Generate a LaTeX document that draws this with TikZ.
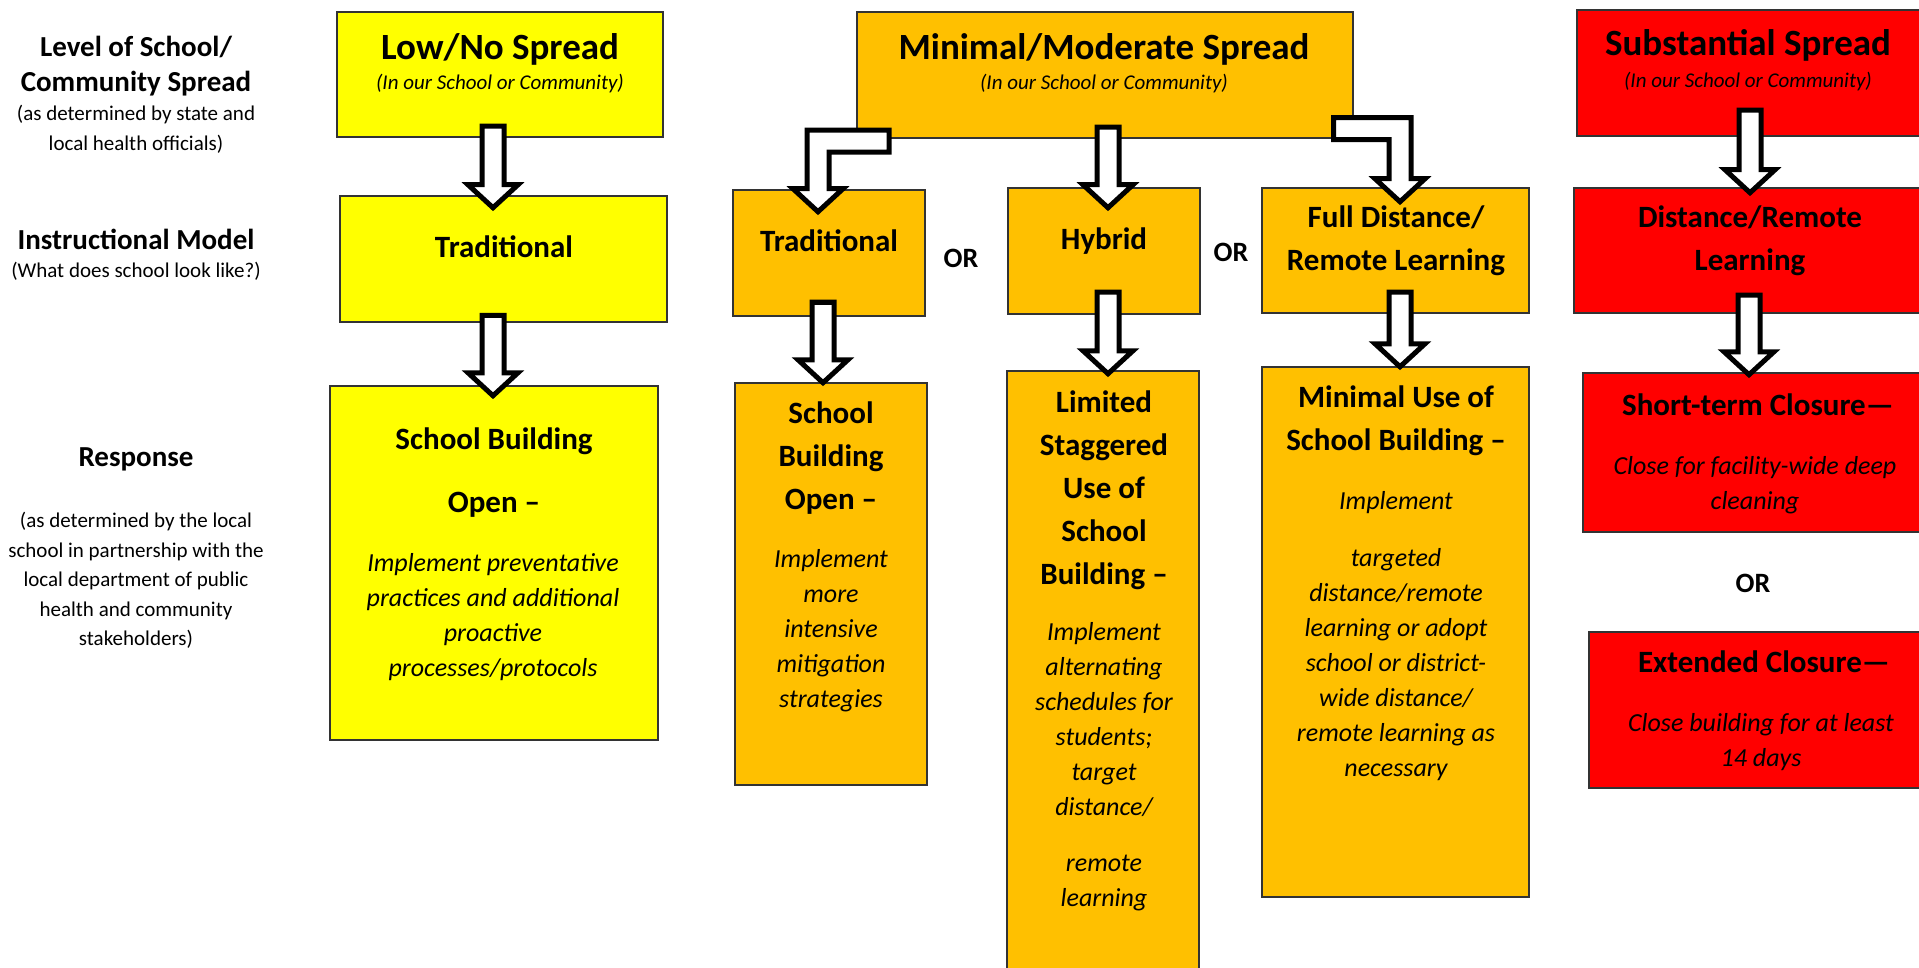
\documentclass[tikz,border=0pt]{standalone}
\usepackage{fontspec}
\setmainfont{Carlito}
\usepackage{xcolor}
\usetikzlibrary{calc}

\definecolor{spreadyellow}{HTML}{FFFF00}
\definecolor{spreadgold}{HTML}{FFC000}
\definecolor{spreadred}{HTML}{FF0000}

\tikzset{
  box/.style={draw=black!80, line width=1.5pt, inner sep=0pt},
  lowbox/.style={box, fill=spreadyellow},
  midbox/.style={box, fill=spreadgold},
  highbox/.style={box, fill=spreadred},
  title/.style={inner sep=0pt, anchor=north, font=\bfseries\fontsize{37}{44}\selectfont},
  subtitle/.style={inner sep=0pt, anchor=north, font=\itshape\fontsize{21}{25}\selectfont},
  head/.style={inner sep=0pt, anchor=north, align=center, font=\bfseries\fontsize{31}{43}\selectfont},
  body/.style={inner sep=0pt, anchor=north, align=center, font=\itshape\fontsize{26}{35}\selectfont},
  sidehead/.style={inner sep=0pt, anchor=north, align=center, font=\bfseries\fontsize{29}{35}\selectfont},
  sidenote/.style={inner sep=0pt, anchor=north, align=center, font=\fontsize{21}{29.5}\selectfont},
  ortext/.style={inner sep=0pt, font=\bfseries\fontsize{28}{34}\selectfont},
  blockarrow/.style={draw=black, fill=white, line width=5pt, line join=miter},
}

% straight block arrow: source, target, x, start inset, tip inset
\newcommand{\blockdown}[5]{%
  \draw[blockarrow] let \p1=(#1.south), \p2=(#2.north), \p3=(#3,0) in
    (\x3-11pt,\y1+#4pt-2.5pt) -- (\x3+11pt,\y1+#4pt-2.5pt) -- (\x3+11pt,\y2-#5pt+26.5pt)
    -- (\x3+25pt,\y2-#5pt+26.5pt) -- (\x3,\y2-#5pt+3.5pt) -- (\x3-25pt,\y2-#5pt+26.5pt)
    -- (\x3-11pt,\y2-#5pt+26.5pt) -- cycle;}

% bent block arrow: source, target, start x, corner x, height, tip inset
\newcommand{\blockelbow}[6]{%
  \draw[blockarrow] let \p1=(#1.south), \p2=(#2.north), \p3=(#3,0), \p4=(#4,0),
    \n1={sign(\x3-\x4)} in
    (\x3,\y1+#5pt+11pt) -- ({\x4-(\n1)*11pt},\y1+#5pt+11pt) -- ({\x4-(\n1)*11pt},\y2-#6pt+26.5pt)
    -- ({\x4-(\n1)*25pt},\y2-#6pt+26.5pt) -- (\x4,\y2-#6pt+3.5pt) -- ({\x4+(\n1)*25pt},\y2-#6pt+26.5pt)
    -- ({\x4+(\n1)*11pt},\y2-#6pt+26.5pt) -- ({\x4+(\n1)*11pt},\y1+#5pt-11pt) -- (\x3,\y1+#5pt-11pt) -- cycle;}

\begin{document}
\begin{tikzpicture}[x=1pt, y=-1pt]
\useasboundingbox (0,0) rectangle (1919,968);
\fill[white] (0,0) rectangle (1919,968);

% row labels
\node[sidehead] (levelhead) at (136,36) {Level of School/\\Community Spread};
\node[sidenote] (levelnote) at (136,105) {(as determined by state and\\local health officials)};
\node[sidehead] (modelhead) at (136,229) {Instructional Model};
\node[sidenote] (modelnote) at (136,262) {(What does school look like?)};
\node[sidehead] (responsehead) at (136,447) {Response};
\node[sidenote] (responsenote) at (136,512) {(as determined by the local\\school in partnership with the\\local department of public\\health and community\\stakeholders)};

% boxes
\node[lowbox, minimum width=326pt, minimum height=125pt] (lowno) at (500,74.5) {};
\node[lowbox, minimum width=327pt, minimum height=126pt] (trad1) at (503.5,259) {};
\node[lowbox, minimum width=328pt, minimum height=354pt] (school1) at (494,563) {};
\node[midbox, minimum width=496pt, minimum height=126pt] (minmod) at (1105,75) {};
\node[midbox, minimum width=192pt, minimum height=126pt] (trad2) at (829,253) {};
\node[midbox, minimum width=192pt, minimum height=126pt] (hybrid) at (1104,251) {};
\node[midbox, minimum width=267pt, minimum height=125pt] (fulldist) at (1395.5,250.5) {};
\node[midbox, minimum width=192pt, minimum height=402pt] (school2) at (831,584) {};
\node[midbox, minimum width=192pt, minimum height=620pt] (limited) at (1103,681) {};
\node[midbox, minimum width=267pt, minimum height=530pt] (minuse) at (1395.5,632) {};
\node[highbox, minimum width=343pt, minimum height=126pt] (subst) at (1748.5,73) {};
\node[highbox, minimum width=346pt, minimum height=125pt] (distrem) at (1747,250.5) {};
\node[highbox, minimum width=337pt, minimum height=159pt] (shortterm) at (1751.5,452.5) {};
\node[highbox, minimum width=331pt, minimum height=156pt] (extended) at (1754.5,710) {};

% box texts
\node[title] (lownot) at (500,33) {Low/No Spread};
\node[subtitle] (lownos) at (500,74) {(In our School or Community)};
\node[head] (trad1t) at (504,236) {Traditional};
\node[head] (school1h) at (494,428) {School Building\\[20pt]Open --};
\node[body] (school1b) at (493,553) {Implement preventative\\practices and additional\\proactive\\processes/protocols};

\node[title] (minmodt) at (1104,33) {Minimal/Moderate Spread};
\node[subtitle] (minmods) at (1104,74) {(In our School or Community)};
\node[head] (trad2t) at (829,230) {Traditional};
\node[head] (hybridt) at (1104,228) {Hybrid};
\node[head] (fulldistt) at (1396,206) {Full Distance/\\Remote Learning};
\node[head] (school2h) at (831,402) {School\\Building\\Open --};
\node[body] (school2b) at (831,549) {Implement\\more\\intensive\\mitigation\\strategies};
\node[head] (limitedh) at (1104,391) {Limited\\Staggered\\Use of\\School\\Building --};
\node[body] (limitedb) at (1104,622) {Implement\\alternating\\schedules for\\students;\\target\\distance/\\[21pt]remote\\learning};
\node[head] (minuseh) at (1396,386) {Minimal Use of\\School Building --};
\node[body] (minuseb) at (1396,491) {Implement\\[22pt]targeted\\distance/remote\\learning or adopt\\school or district-\\wide distance/\\remote learning as\\necessary};

\node[title] (substt) at (1748,29) {Substantial Spread};
\node[subtitle] (substs) at (1748,72) {(In our School or Community)};
\node[head] (distremt) at (1750,206) {Distance/Remote\\Learning};
\node[head] (shorttermh) at (1758,394) {Short-term Closure---};
\node[body] (shorttermb) at (1755,456) {Close for facility-wide deep\\cleaning};
\node[head] (extendedh) at (1764,651) {Extended Closure---};
\node[body] (extendedb) at (1761,713) {Close building for at least\\14 days};

\node[ortext] (or1) at (961,258) {OR};
\node[ortext] (or2) at (1231,252) {OR};
\node[ortext] (or3) at (1753,583) {OR};

% arrows
\blockdown{lowno}{trad1}{493}{14}{16}
\blockdown{trad1}{school1}{493}{10}{14}
\blockelbow{minmod}{trad2}{889}{818}{-2.5}{26}
\blockdown{minmod}{hybrid}{1108}{14}{24}
\blockelbow{minmod}{fulldist}{1333.5}{1400}{10}{18}
\blockdown{trad2}{school2}{823}{17}{4}
\blockdown{hybrid}{limited}{1108}{25}{7}
\blockdown{fulldist}{minuse}{1400}{24}{4}
\blockdown{subst}{distrem}{1750}{29}{9}
\blockdown{distrem}{shortterm}{1749}{21}{6}
\end{tikzpicture}
\end{document}
